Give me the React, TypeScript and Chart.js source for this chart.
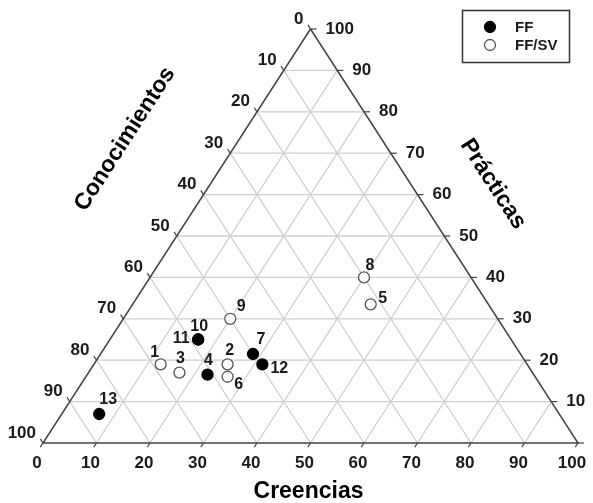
import React, { useEffect, useRef } from "react";
import { Chart, registerables } from "chart.js";

Chart.register(...registerables);

// ---- data (ternary: Creencias + Prácticas + Conocimientos = 100) ----
const IDS = ["1", "2", "3", "4", "5", "6", "7", "8", "9", "10", "11", "12", "13"];
const GROUP = ["FF/SV", "FF/SV", "FF/SV", "FF", "FF/SV", "FF/SV", "FF", "FF/SV", "FF/SV", "FF", "FF", "FF", "FF"];
const CREENCIAS = [12.5, 25, 17, 22.5, 44.5, 26.5, 28.5, 40, 20, 16.5, 16.5, 31.5, 7];
const PRACTICAS = [19, 19, 17, 16.5, 33.5, 16, 21.5, 40, 30, 25, 25, 19, 7];
const CONOCIMIENTOS = [68.5, 56, 66, 61, 22, 57.5, 50, 20, 50, 58.5, 58.5, 49.5, 86];
const SERIES = ["FF", "FF/SV"];
const TICKS = [0, 10, 20, 30, 40, 50, 60, 70, 80, 90, 100];
const TICK_LABELS = TICKS.map(String);
const AXIS_TITLES = { bottom: "Creencias", left: "Conocimientos", right: "Prácticas" };

// label offsets (style, px) per point id
const LABEL_OFFSETS: Record<string, [number, number]> = {
  "1": [-6, -12], "2": [2, -14], "3": [1, -14], "4": [1, -14], "5": [12, -6],
  "6": [11, 8], "7": [8, -14], "8": [6, -12], "9": [11, -12], "10": [1, -13],
  "11": [-17, -1], "12": [17, 4], "13": [9, -14],
};

const FONT = "'Liberation Sans', Arial, sans-serif";

function buildDatasets() {
  return SERIES.map((s) => {
    const data: any[] = [];
    IDS.forEach((id, i) => {
      if (GROUP[i] === s) {
        data.push({ x: CREENCIAS[i] + PRACTICAS[i] / 2, y: PRACTICAS[i], id, con: CONOCIMIENTOS[i] });
      }
    });
    const filled = s === "FF";
    return {
      label: s,
      data,
      pointRadius: 5.5,
      pointHoverRadius: 5.5,
      pointBackgroundColor: filled ? "#000" : "#fff",
      pointBorderColor: filled ? "#000" : "#555",
      pointBorderWidth: 1.3,
      showLine: false,
      clip: false as any,
    };
  });
}

const ternaryPlugin = {
  id: "ternary",
  beforeDatasetsDraw(chart: any) {
    const ctx = chart.ctx;
    const xs = chart.scales.x;
    const ys = chart.scales.y;
    const px = (cre: number, prac: number) => [xs.getPixelForValue(cre + prac / 2), ys.getPixelForValue(prac)];
    ctx.save();
    // grid
    ctx.strokeStyle = "#cfcfcf";
    ctx.lineWidth = 1.3;
    for (const k of TICKS) {
      if (k === 0 || k === 100) continue;
      const lines = [
        [px(0, k), px(100 - k, k)],
        [px(k, 0), px(k, 100 - k)],
        [px(100 - k, 0), px(0, 100 - k)],
      ];
      for (const [a, b] of lines) {
        ctx.beginPath();
        ctx.moveTo(a[0], a[1]);
        ctx.lineTo(b[0], b[1]);
        ctx.stroke();
      }
    }
    // edges
    const bl = px(0, 0), br = px(100, 0), tp = px(0, 100);
    ctx.strokeStyle = "#444";
    ctx.lineWidth = 1.5;
    ctx.beginPath();
    ctx.moveTo(bl[0], bl[1]);
    ctx.lineTo(br[0], br[1]);
    ctx.lineTo(tp[0], tp[1]);
    ctx.closePath();
    ctx.stroke();

    // tick marks
    const lx = tp[0] - bl[0], ly = tp[1] - bl[1];
    const len = Math.hypot(lx, ly);
    const ux = lx / len, uy = ly / len; // unit vector up along left edge
    ctx.lineWidth = 1.2;
    TICKS.forEach((k) => {
      const b = px(k, 0);
      ctx.beginPath();
      ctx.moveTo(b[0], b[1]);
      ctx.lineTo(b[0] - ux * 5, b[1] - uy * 5);
      ctx.stroke();
      const l = px(0, 100 - k);
      ctx.beginPath();
      ctx.moveTo(l[0], l[1]);
      ctx.lineTo(l[0] - ux * 5, l[1] + uy * 5);
      ctx.stroke();
      const r = px(100 - k, k);
      ctx.beginPath();
      ctx.moveTo(r[0], r[1]);
      ctx.lineTo(r[0] + 6, r[1]);
      ctx.stroke();
    });

    // tick labels
    ctx.fillStyle = "#1a1a1a";
    ctx.font = `bold 17px ${FONT}`;
    ctx.textBaseline = "middle";
    TICKS.forEach((k, i) => {
      const b = px(k, 0);
      ctx.textAlign = "center";
      ctx.fillText(TICK_LABELS[i], b[0] - 6, b[1] + 20);
      const l = px(0, 100 - k);
      ctx.textAlign = "right";
      ctx.fillText(TICK_LABELS[i], l[0] - 7, l[1] - 10);
      if (k > 0) {
        const r = px(100 - k, k);
        ctx.textAlign = "left";
        ctx.fillText(TICK_LABELS[i], r[0] + 15, r[1]);
      }
    });

    // axis titles
    ctx.font = `bold 23px ${FONT}`;
    ctx.textAlign = "center";
    ctx.fillStyle = "#000";
    ctx.fillText(AXIS_TITLES.bottom, (bl[0] + br[0]) / 2 - 2, bl[1] + 49);
    const angL = Math.atan2(tp[1] - bl[1], tp[0] - bl[0]);
    ctx.save();
    ctx.translate(125, 139);
    ctx.rotate(angL);
    ctx.fillText(AXIS_TITLES.left, 0, 0);
    ctx.restore();
    const angR = Math.atan2(br[1] - tp[1], br[0] - tp[0]);
    ctx.save();
    ctx.translate(493, 184);
    ctx.rotate(angR);
    ctx.fillText(AXIS_TITLES.right, 0, 0);
    ctx.restore();
    ctx.restore();
  },
  afterDatasetsDraw(chart: any) {
    const ctx = chart.ctx;
    ctx.save();
    ctx.fillStyle = "#1a1a1a";
    ctx.font = `bold 16px ${FONT}`;
    ctx.textAlign = "center";
    ctx.textBaseline = "middle";
    chart.data.datasets.forEach((ds: any, di: number) => {
      const meta = chart.getDatasetMeta(di);
      meta.data.forEach((el: any, j: number) => {
        const id = ds.data[j].id;
        const off = LABEL_OFFSETS[id] || [8, -12];
        ctx.fillText(id, el.x + off[0], el.y + off[1]);
      });
    });

    // legend
    ctx.strokeStyle = "#333";
    ctx.lineWidth = 1.5;
    ctx.strokeRect(462.5, 10.5, 107, 52);
    chart.data.datasets.forEach((ds: any, di: number) => {
      const y = 27 + di * 18;
      ctx.beginPath();
      ctx.arc(490, y, 5.5, 0, Math.PI * 2);
      ctx.fillStyle = ds.pointBackgroundColor;
      ctx.fill();
      ctx.strokeStyle = ds.pointBorderColor;
      ctx.lineWidth = 1.3;
      ctx.stroke();
      ctx.fillStyle = "#1a1a1a";
      ctx.font = `bold 15px ${FONT}`;
      ctx.textAlign = "left";
      ctx.fillText(ds.label, 515, y + 1);
    });
    ctx.restore();
  },
};

export default function App() {
  const ref = useRef<HTMLCanvasElement | null>(null);
  useEffect(() => {
    if (!ref.current) return;
    const chart = new Chart(ref.current, {
      type: "scatter",
      data: { datasets: buildDatasets() as any },
      options: {
        animation: false,
        responsive: false,
        maintainAspectRatio: false,
        layout: { padding: { left: 43, right: 15, top: 29, bottom: 60 } },
        scales: {
          x: { type: "linear", min: 0, max: 100, display: false },
          y: { type: "linear", min: 0, max: 100, display: false },
        },
        plugins: { legend: { display: false }, tooltip: { enabled: false } },
      },
      plugins: [ternaryPlugin],
    });
    return () => chart.destroy();
  }, []);
  return (
    <div style={{ position: "absolute", left: 0, top: 0, width: 593, height: 503, background: "#fff" }}>
      <canvas ref={ref} width={593} height={503} />
    </div>
  );
}
